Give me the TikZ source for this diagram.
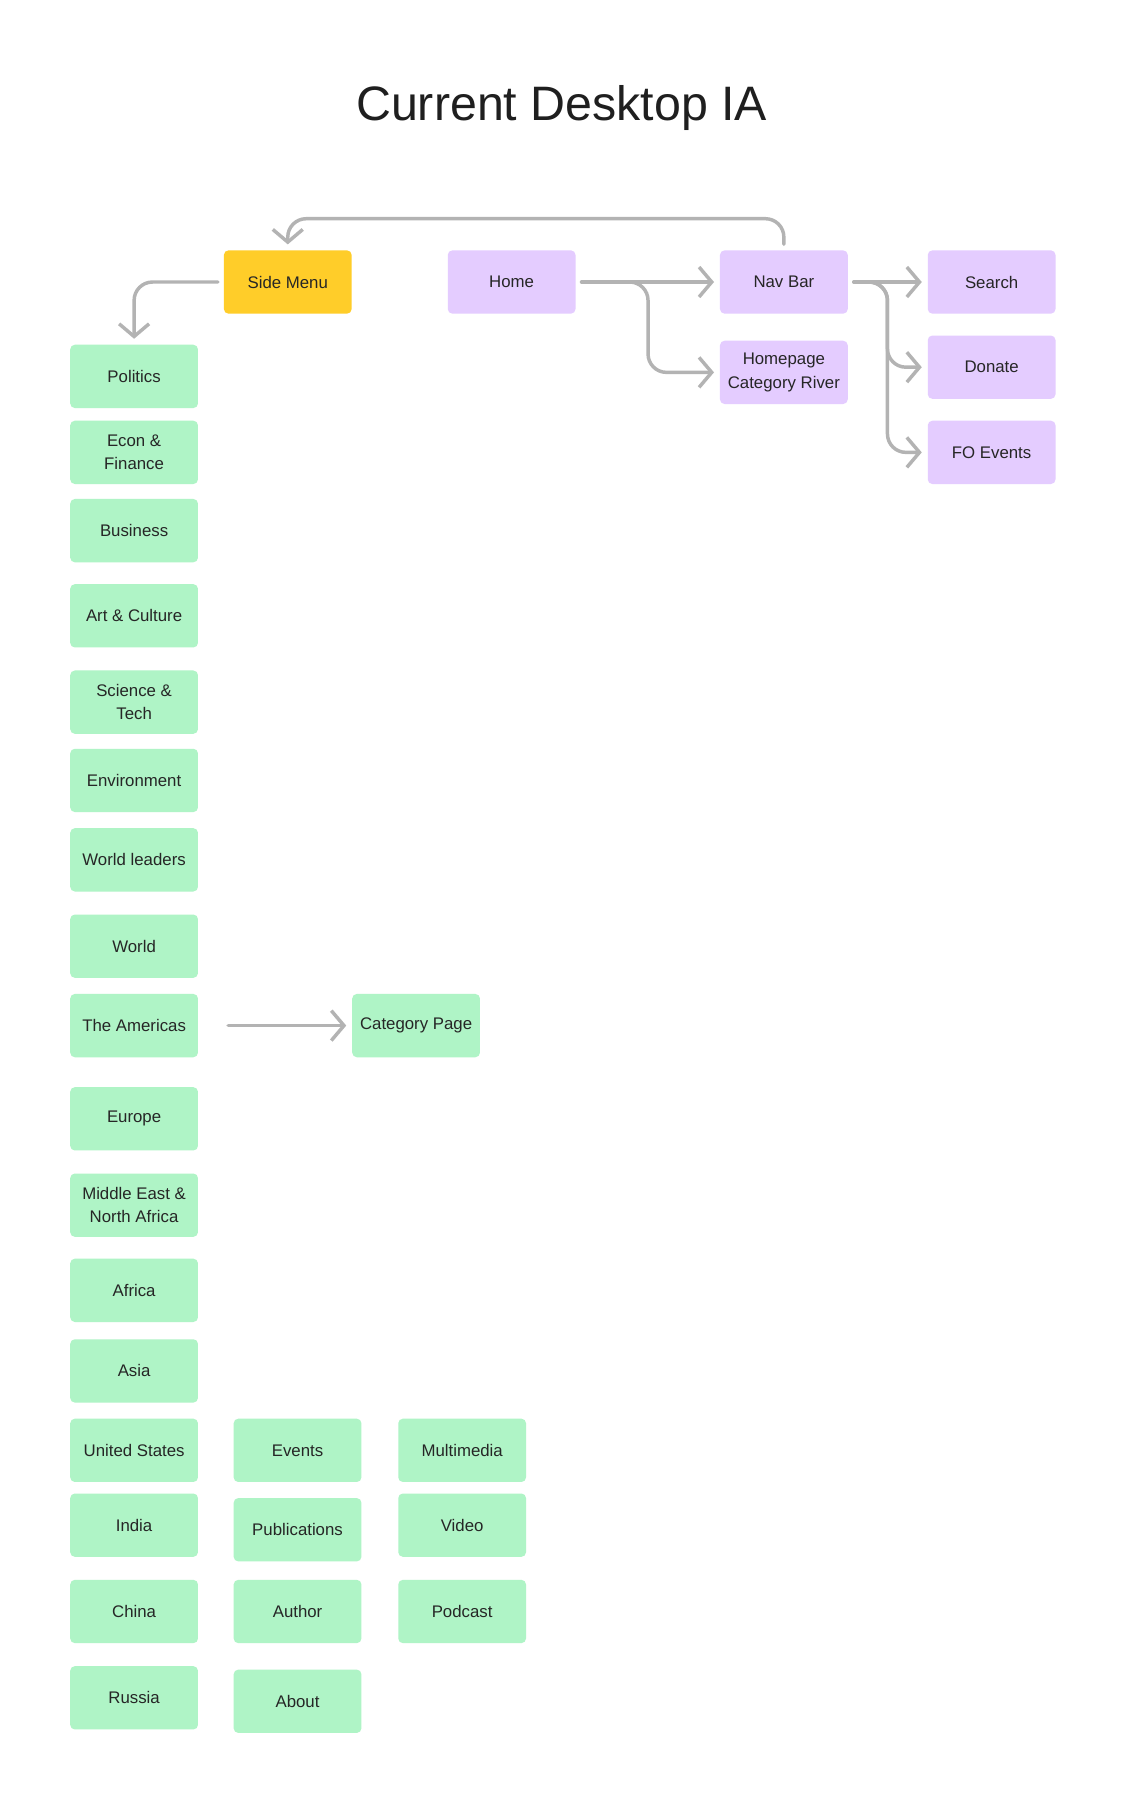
\documentclass[tikz,border=0pt]{standalone}
\usepackage{fontspec}
\setmainfont{Liberation Sans}
\usepackage{xcolor}
\usepackage{tikz}
\usetikzlibrary{positioning,calc,arrows.meta}

\definecolor{navpurple}{HTML}{E4CCFF}
\definecolor{pagegreen}{HTML}{AFF4C6}
\definecolor{menuyellow}{HTML}{FFCD29}
\definecolor{linkgray}{HTML}{B3B3B3}
\definecolor{labeldark}{HTML}{262626}

\tikzset{
    box/.style={rectangle, rounded corners=4pt, minimum width=111pt, minimum height=55pt,
        align=center, text=labeldark, font=\fontsize{14.6}{20.5}\selectfont},
    greenbox/.style={box, fill=pagegreen},
    purplebox/.style={box, fill=navpurple},
    yellowbox/.style={box, fill=menuyellow},
    link/.style={draw=linkgray, line width=3pt, rounded corners=16pt, line cap=round, line join=round,
        shorten <=5pt, shorten >=5pt, -{Straight Barb[length=11pt,width=26pt]}}
}

\begin{document}
\begin{tikzpicture}[x=1pt,y=-1pt]
    \useasboundingbox[fill=white] (0,0) rectangle (978,1569);

    \node[anchor=base, text=black!88, font=\fontsize{42}{48}\selectfont] (title) at (488,105) {Current Desktop IA};

    % top row
    \node[yellowbox] (sidemenu) at (250,245) {Side Menu};
    \node[purplebox] (home) at (444.5,245) {Home};
    \node[purplebox] (navbar) at (681,245) {Nav Bar};
    \node[purplebox] (river) at (681,323.5) {Homepage\\Category River};
    \node[purplebox] (search) at (861.5,245) {Search};
    \node[purplebox] (donate) at (861.5,319) {Donate};
    \node[purplebox] (foevents) at (861.5,393) {FO Events};

    % side menu items
    \node[greenbox] (politics) at (116.5,327) {Politics};
    \node[greenbox] (econ) at (116.5,393) {Econ \&\\Finance};
    \node[greenbox] (business) at (116.5,461) {Business};
    \node[greenbox] (art) at (116.5,535) {Art \& Culture};
    \node[greenbox] (science) at (116.5,610) {Science \&\\Tech};
    \node[greenbox] (environment) at (116.5,678) {Environment};
    \node[greenbox] (leaders) at (116.5,747) {World leaders};
    \node[greenbox] (world) at (116.5,822) {World};
    \node[greenbox] (americas) at (116.5,891) {The Americas};
    \node[greenbox] (europe) at (116.5,972) {Europe};
    \node[greenbox] (mena) at (116.5,1047) {Middle East \&\\North Africa};
    \node[greenbox] (africa) at (116.5,1121) {Africa};
    \node[greenbox] (asia) at (116.5,1191) {Asia};
    \node[greenbox] (us) at (116.5,1260) {United States};
    \node[greenbox] (india) at (116.5,1325) {India};
    \node[greenbox] (china) at (116.5,1400) {China};
    \node[greenbox] (russia) at (116.5,1475) {Russia};

    \node[greenbox] (events) at (258.5,1260) {Events};
    \node[greenbox] (publications) at (258.5,1329) {Publications};
    \node[greenbox] (author) at (258.5,1400) {Author};
    \node[greenbox] (about) at (258.5,1478) {About};

    \node[greenbox] (multimedia) at (401.5,1260) {Multimedia};
    \node[greenbox] (video) at (401.5,1325) {Video};
    \node[greenbox] (podcast) at (401.5,1400) {Podcast};

    \node[greenbox] (catpage) at (361.5,891) {Category Page};

    % connectors
    \coordinate (topbend) at (250,190);
    \coordinate (homesplit) at (563,245);
    \coordinate (navsplit) at (771,245);

    \draw[link] (navbar.north) |- (topbend) -- (sidemenu.north);
    \draw[link] (sidemenu.west) -| (politics.north);
    \draw[link] (home.east) -- (navbar.west);
    \draw[link] (home.east) -- (homesplit) |- (river.west);
    \draw[link] (navbar.east) -- (search.west);
    \draw[link] (navbar.east) -- (navsplit) |- (donate.west);
    \draw[link] (navbar.east) -- (navsplit) |- (foevents.west);
    \draw[link, shorten <=26pt] (americas.east) -- (catpage.west);

\end{tikzpicture}
\end{document}
